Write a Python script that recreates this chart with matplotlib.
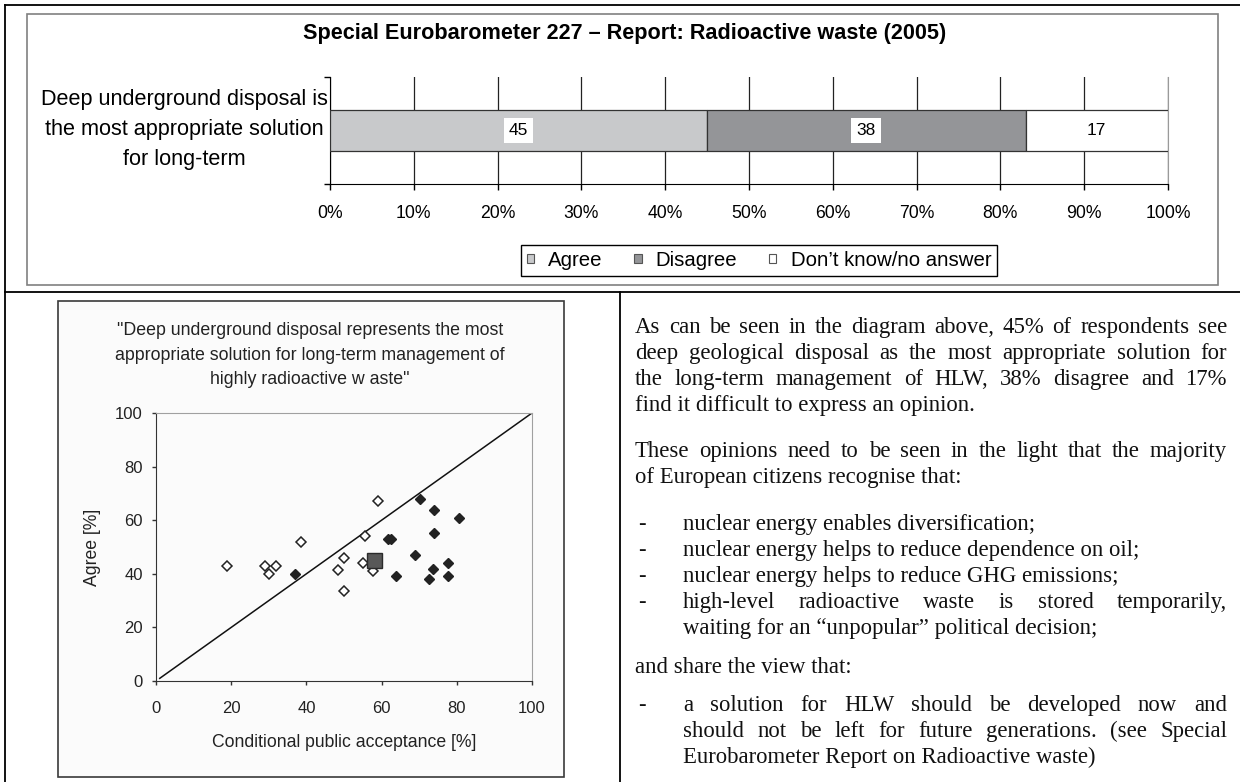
import matplotlib
matplotlib.use('Agg')
import matplotlib.pyplot as plt
from matplotlib.patches import Rectangle, Patch
from matplotlib.lines import Line2D

plt.rcParams['font.family'] = ['Liberation Sans', 'DejaVu Sans']

W, H = 1240, 782

# top chart: Special Eurobarometer 227
chart_title = 'Special Eurobarometer 227 \u2013 Report: Radioactive waste (2005)'
question = ['Deep underground disposal is', 'the most appropriate solution', 'for long-term']
answers = ['Agree', 'Disagree', 'Don\u2019t know/no answer']
shares = [45, 38, 17]
bar_colors = ['#c8c9cb', '#949598', '#ffffff']
pct_ticks = list(range(0, 101, 10))

# scatter: conditional public acceptance vs agree
scatter_title = ['"Deep underground disposal represents the most',
                 'appropriate solution for long-term management of',
                 'highly radioactive w aste"']
open_x = [19, 29, 30, 32, 38.5, 48.5, 50, 50, 55, 55.5, 57.6, 59]
open_y = [43, 43, 40, 43, 52, 41.5, 46, 33.7, 44, 54, 41, 67]
filled_x = [37, 61.6, 62.4, 63.8, 68.9, 70.2, 72.5, 73.8, 74, 74, 77.7, 77.7, 80.7]
filled_y = [40, 53, 53, 39.2, 47.2, 68, 38, 41.7, 63.8, 55.1, 44.1, 39.2, 60.8]
eu_x = [57.9]
eu_y = [45]
diag = [1, 100]
axis_ticks = list(range(0, 101, 20))

# text column, one entry per printed line: (text, justified)
para1 = [('As can be seen in the diagram above, 45% of respondents see', True),
         ('deep geological disposal as the most appropriate solution for', True),
         ('the long-term management of HLW, 38% disagree and 17%', True),
         ('find it difficult to express an opinion.', False)]
para2 = [('These opinions need to be seen in the light that the majority', True),
         ('of European citizens recognise that:', False)]
bullets1 = [('nuclear energy enables diversification;', False, True),
            ('nuclear energy helps to reduce dependence on oil;', False, True),
            ('nuclear energy helps to reduce GHG emissions;', False, True),
            ('high-level radioactive waste is stored temporarily,', True, True),
            ('waiting for an \u201cunpopular\u201d political decision;', False, False)]
para3 = [('and share the view that:', False)]
bullets2 = [('a solution for HLW should be developed now and', True, True),
            ('should not be left for future generations. (see Special', True, False),
            ('Eurobarometer Report on Radioactive waste)', False, False)]


def fx(x):
    return x / W


def fy(y):
    return 1 - y / H


fig = plt.figure(figsize=(W / 100, H / 100), dpi=100)
fig.patch.set_facecolor('white')

# table frame of the page
for x0, y0, x1, y1 in [(5, 5, 1240, 5), (5, 5, 5, 782), (5, 292, 1240, 292), (620, 292, 620, 782)]:
    fig.add_artist(Line2D([fx(x0), fx(x1)], [fy(y0), fy(y1)], color='black', lw=1.3))

# chart boxes
fig.add_artist(Rectangle((fx(27), fy(285)), fx(1218) - fx(27), fy(14) - fy(285),
                         transform=fig.transFigure, fc='white', ec='#808080', lw=1.2, zorder=-1))
fig.add_artist(Rectangle((fx(58), fy(777)), fx(564) - fx(58), fy(301) - fy(777),
                         transform=fig.transFigure, fc='#fbfbfb', ec='#3a3a3a', lw=1.2, zorder=-1))

# ---- top stacked bar
ax1 = fig.add_axes([fx(330), fy(184), fx(1168) - fx(330), fy(77) - fy(184)])
ax1.set_facecolor('white')
left = 0
for val, col, lab in zip(shares, bar_colors, answers):
    ax1.barh(0, val, left=left, height=0.39, color=col, edgecolor='#333333', lw=0.9, label=lab, zorder=3)
    ax1.text(left + val / 2, 0, str(val), ha='center', va='center', fontsize=12.5, zorder=4,
             bbox=dict(boxstyle='square,pad=0.3', fc='white', ec='none'))
    left += val
ax1.set_xlim(0, 100)
ax1.set_ylim(-0.5, 0.5)
ax1.set_xticks(pct_ticks)
ax1.set_xticklabels([f'{t}%' for t in pct_ticks], fontsize=12.7)
ax1.set_yticks([-0.5, 0.5])
ax1.set_yticklabels([])
ax1.tick_params(axis='x', length=4.3, width=1, pad=11, colors='black')
ax1.tick_params(axis='y', length=4.3, width=1)
ax1.xaxis.grid(True, color='#222222', lw=0.9)
ax1.set_axisbelow(True)
ax1.spines['top'].set_visible(False)
ax1.spines['right'].set_color('#9a9a9a')
ax1.spines['left'].set_color('black')
ax1.spines['bottom'].set_color('black')

fig.text(fx(625), fy(34), chart_title, ha='center', va='center', fontsize=15.6, fontweight='bold')
for i, line in enumerate(question):
    fig.text(fx(184), fy(100 + 30 * i), line, ha='center', va='center', fontsize=15.6)

handles = [Patch(fc=c, ec='#555555', lw=0.8) for c in bar_colors]
leg = fig.legend(handles, answers, loc='center', bbox_to_anchor=(fx(759), fy(260.5)),
                 bbox_transform=fig.transFigure, ncol=3, fontsize=14.7, frameon=True,
                 fancybox=False, edgecolor='black', framealpha=1, handlelength=0.35,
                 handleheight=0.35, handletextpad=0.7, columnspacing=1.55, borderpad=0.3,
                 borderaxespad=0)
leg.get_frame().set_linewidth(1)

# ---- scatter
ax2 = fig.add_axes([fx(156), fy(681), fx(532) - fx(156), fy(413) - fy(681)])
ax2.set_facecolor('#fbfbfb')
ax2.plot(diag, diag, color='#111111', lw=1.1, zorder=2)
ax2.plot(open_x, open_y, 'D', ms=5.2, mfc='white', mec='#222222', mew=1.1, ls='none', zorder=3)
ax2.plot(filled_x, filled_y, 'D', ms=5.5, mfc='#222222', mec='#222222', ls='none', zorder=3)
ax2.plot(eu_x, eu_y, 's', ms=10.8, mfc='#585858', mec='#2a2a2a', mew=1, ls='none', zorder=4)
ax2.set_xlim(0, 100)
ax2.set_ylim(0, 100)
ax2.set_xticks(axis_ticks)
ax2.set_yticks(axis_ticks)
ax2.tick_params(axis='x', length=3, width=1, pad=11.5, labelsize=12, colors='#333333', labelcolor='#222222')
ax2.tick_params(axis='y', length=3, width=1, pad=6.5, labelsize=12, colors='#333333', labelcolor='#222222')
for s in ['top', 'right']:
    ax2.spines[s].set_color('#a0a0a0')
for s in ['left', 'bottom']:
    ax2.spines[s].set_color('#333333')
ax2.set_xlabel('Conditional public acceptance [%]', fontsize=12.7, color='#222222')
ax2.xaxis.set_label_coords(0.5, -0.198)
ax2.set_ylabel('Agree [%]', fontsize=12.7, color='#222222')
ax2.yaxis.set_label_coords(-0.146, 0.5)
for i, line in enumerate(scatter_title):
    fig.text(fx(310), fy(330 + 25 * i), line, ha='center', va='center', fontsize=12.8, color='#222222')

# ---- text column (baseline aligned so justified words sit on one line)
serif = dict(family=['Liberation Serif', 'DejaVu Serif'], fontsize=16.4, va='baseline', color='#111111')
renderer = fig.canvas.get_renderer()
BASE = 6


def put_line(s, x0, x1, y, justify):
    y = y + BASE
    if not justify:
        fig.text(fx(x0), fy(y), s, **serif)
        return
    words = s.split()
    objs = [fig.text(0, fy(y), w, **serif) for w in words]
    widths = [o.get_window_extent(renderer).width for o in objs]
    gap = (x1 - x0 - sum(widths)) / (len(words) - 1)
    x = x0
    for o, w in zip(objs, widths):
        o.set_x(fx(x))
        x += w + gap


def put_dash(y):
    fig.text(fx(DASH), fy(y + BASE), '-', **serif)


TX0, TX1, BX0, DASH = 635, 1227, 683, 638
for i, (s, j) in enumerate(para1):
    put_line(s, TX0, TX1, 327 + 26 * i, j)
for i, (s, j) in enumerate(para2):
    put_line(s, TX0, TX1, 451 + 26 * i, j)
for i, (s, j, dash) in enumerate(bullets1):
    y = 524 + 26 * i
    if dash:
        put_dash(y)
    put_line(s, BX0, TX1, y, j)
for s, j in para3:
    put_line(s, TX0, TX1, 667, j)
for i, (s, j, dash) in enumerate(bullets2):
    y = 705 + 26 * i
    if dash:
        put_dash(y)
    put_line(s, BX0, TX1, y, j)

fig.savefig('out.png', dpi=100)
